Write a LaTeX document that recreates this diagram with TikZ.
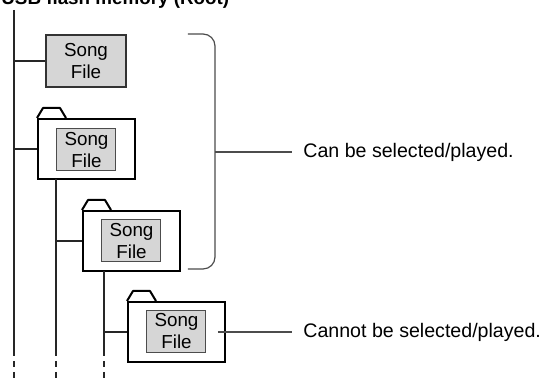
\documentclass[tikz,border=0pt]{standalone}
\usepackage{fontspec}
\setmainfont{Liberation Sans}
\begin{document}
\begin{tikzpicture}[x=0.5pt,y=-0.5pt,
  treeline/.style={draw=black!85,line width=0.6pt},
  leader/.style={draw=black!70,line width=0.6pt},
  songbox/.style={draw=black!70,fill=black!16,line width=0.5pt,minimum width=29.5pt,minimum height=21pt,inner sep=0pt,align=center,font=\fontsize{9.4}{11}\selectfont},
  filebox/.style={draw=black!80,fill=black!16,line width=0.7pt,minimum width=40pt,minimum height=26pt,inner sep=0pt,align=center,font=\fontsize{9.4}{11}\selectfont},
  folderbody/.style={draw=black,line width=1pt,fill=white,minimum width=48.5pt,minimum height=30pt,inner sep=0pt},
  lbl/.style={anchor=west,font=\fontsize{9.8}{12}\selectfont,inner sep=0pt}]
\useasboundingbox (0,0) rectangle (543,378);
% title (cut at top)
\node[anchor=base west,inner sep=0pt,font=\bfseries\fontsize{9.4}{11}\selectfont] (title) at (1,4.5) {USB flash memory (Root)};
% file and folders
\node[filebox] (f1) at (86,61) {Song\\File};
\newcommand{\folderat}[3]{%
  \node[folderbody] (#1) at (#2) {};
  \draw[line width=1pt,line join=round] (#1.north west) -- ++(6,-10) -- ++(17,0) -- ++(6,10);
  \node[songbox] (#1s) at (#3) {Song\\File};
}
\folderat{d1}{86.5,149}{86.5,150}
\folderat{d2}{131.5,241}{131.5,241}
\folderat{d3}{176.5,332}{176.5,331.5}
% tree lines
\coordinate (r0) at (14,10);
\coordinate (r1) at (14,350);
\coordinate (r2) at (14,378);
\draw[treeline] (r0) -- (r1);
\draw[treeline,dash pattern=on 3pt off 2.5pt] (r1) -- (r2);
\draw[treeline] (r0 |- f1.west) -- (f1.west);
\draw[treeline] (r0 |- d1.west) -- (d1.west);
\coordinate (a0) at (56,179);
\coordinate (a1) at (56,350);
\coordinate (a2) at (56,378);
\draw[treeline] (a0) -- (a1);
\draw[treeline,dash pattern=on 3pt off 2.5pt] (a1) -- (a2);
\draw[treeline] (a0 |- d2.west) -- (d2.west);
\coordinate (b0) at (104,271);
\coordinate (b1) at (104,350);
\coordinate (b2) at (104,378);
\draw[treeline] (b0) -- (b1);
\draw[treeline,dash pattern=on 3pt off 2.5pt] (b1) -- (b2);
\draw[treeline] (b0 |- d3.west) -- (d3.west);
% bracket
\coordinate (bt) at (188,34);
\coordinate (bb) at (188,269);
\coordinate (bm) at (215,152);
\draw[leader,rounded corners=6pt] (bt) -- (215,34) -- (215,269) -- (bb);
\node[lbl] (can) at (303,152) {Can be selected/played.};
\draw[leader] (bm) -- (292,152);
% cannot
\coordinate (cs) at (218,332);
\node[lbl] (cannot) at (303,332) {Cannot be selected/played.};
\draw[leader] (cs) -- (292,332);
\end{tikzpicture}
\end{document}
